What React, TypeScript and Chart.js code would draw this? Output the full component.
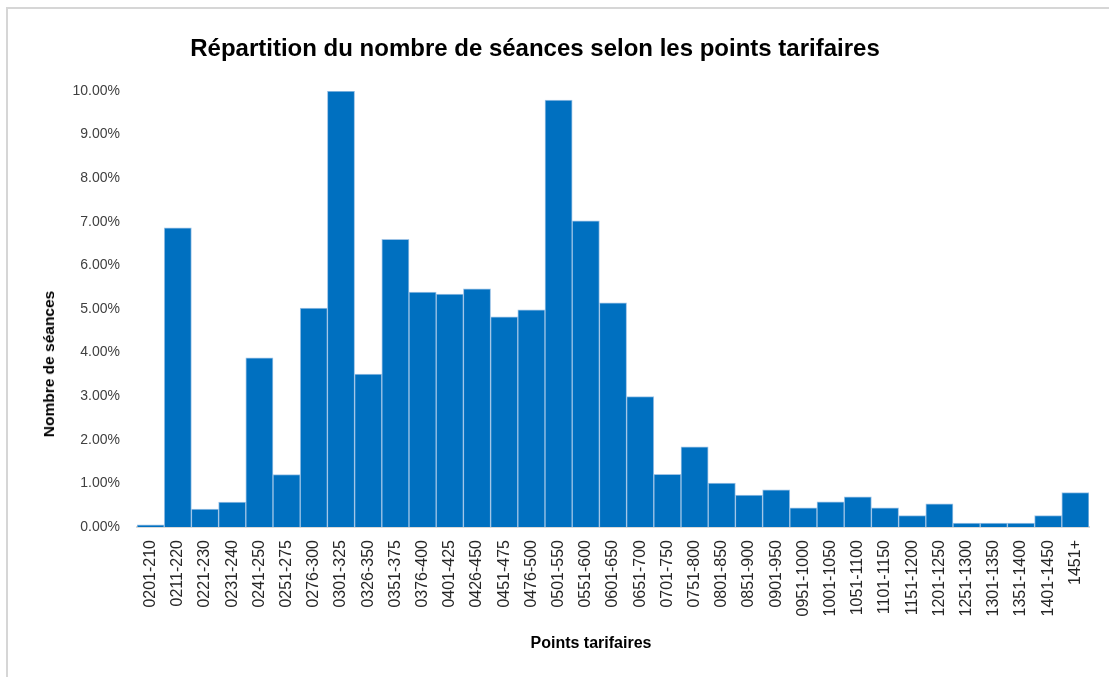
import React, { useEffect, useRef } from "react";
import { Chart, registerables } from "chart.js";

Chart.register(...registerables);

const categories: string[] = [
  "0201-210", "0211-220", "0221-230", "0231-240", "0241-250", "0251-275", "0276-300",
  "0301-325", "0326-350", "0351-375", "0376-400", "0401-425", "0426-450", "0451-475",
  "0476-500", "0501-550", "0551-600", "0601-650", "0651-700", "0701-750", "0751-800",
  "0801-850", "0851-900", "0901-950", "0951-1000", "1001-1050", "1051-1100", "1101-1150",
  "1151-1200", "1201-1250", "1251-1300", "1301-1350", "1351-1400", "1401-1450", "1451+",
];

const seances: number[] = [
  0.05, 6.86, 0.41, 0.57, 3.88, 1.2, 5.02,
  10.0, 3.51, 6.6, 5.39, 5.34, 5.46, 4.82,
  4.98, 9.79, 7.02, 5.14, 2.99, 1.21, 1.84,
  1.01, 0.73, 0.85, 0.44, 0.58, 0.69, 0.44,
  0.26, 0.53, 0.09, 0.09, 0.09, 0.26, 0.79,
];

const yTicks: number[] = [0, 1, 2, 3, 4, 5, 6, 7, 8, 9, 10];

const title = "Répartition du nombre de séances selon les points tarifaires";
const xTitle = "Points tarifaires";
const yTitle = "Nombre de séances";

const FONT = "'Liberation Sans', Arial, sans-serif";

export default function App() {
  const ref = useRef<HTMLCanvasElement | null>(null);

  useEffect(() => {
    if (!ref.current) return;
    const chart = new Chart(ref.current, {
      type: "bar",
      data: {
        labels: categories,
        datasets: [
          {
            data: seances,
            backgroundColor: "#0070C0",
            borderColor: "#9DC3E6",
            borderWidth: 1,
            barPercentage: 1,
            categoryPercentage: 1,
          },
        ],
      },
      options: {
        responsive: false,
        animation: false,
        layout: { padding: { left: 0, right: 20, top: 91, bottom: 0 } },
        plugins: {
          legend: { display: false },
          tooltip: { enabled: false },
          title: { display: false },
        },
        scales: {
          x: {
            grid: { display: false },
            border: { display: true, color: "#D9D9D9", width: 2 },
            ticks: {
              autoSkip: false,
              minRotation: 90,
              maxRotation: 90,
              padding: 5,
              color: "#262626",
              font: { family: FONT, size: 16 },
            },
            afterFit: (s: any) => {
              s.height = 150;
            },
          },
          y: {
            min: 0,
            max: 10,
            grid: { display: false },
            border: { display: false },
            afterBuildTicks: (s: any) => {
              s.ticks = yTicks.map((v) => ({ value: v }));
            },
            ticks: {
              padding: 9,
              color: "#404040",
              font: { family: FONT, size: 14 },
              callback: (v: any) => Number(v).toFixed(2) + "%",
            },
            afterFit: (s: any) => {
              s.width = 137;
            },
          },
        },
      },
    });
    return () => chart.destroy();
  }, []);

  return (
    <div
      style={{
        position: "absolute",
        left: 0,
        top: 0,
        width: 1109,
        height: 677,
        background: "#fff",
        overflow: "hidden",
      }}
    >
      <div
        style={{
          position: "absolute",
          left: 6,
          top: 7,
          width: 1103,
          height: 670,
          borderTop: "2px solid #D6D6D6",
          borderLeft: "2px solid #D6D6D6",
        }}
      />
      <canvas ref={ref} width={1109} height={677} style={{ position: "absolute", left: 0, top: 0 }} />
      <div
        style={{
          position: "absolute",
          left: 535,
          top: 48,
          transform: "translate(-50%, -50%)",
          whiteSpace: "nowrap",
          fontFamily: FONT,
          fontWeight: "bold",
          fontSize: 24,
          color: "#000",
        }}
      >
        {title}
      </div>
      <div
        style={{
          position: "absolute",
          left: 591,
          top: 643,
          transform: "translate(-50%, -50%)",
          whiteSpace: "nowrap",
          fontFamily: FONT,
          fontWeight: "bold",
          fontSize: 16,
          color: "#000",
        }}
      >
        {xTitle}
      </div>
      <div
        style={{
          position: "absolute",
          left: 49,
          top: 364,
          transform: "translate(-50%, -50%) rotate(-90deg)",
          whiteSpace: "nowrap",
          fontFamily: FONT,
          fontWeight: "bold",
          fontSize: 15.5,
          color: "#000",
        }}
      >
        {yTitle}
      </div>
    </div>
  );
}
